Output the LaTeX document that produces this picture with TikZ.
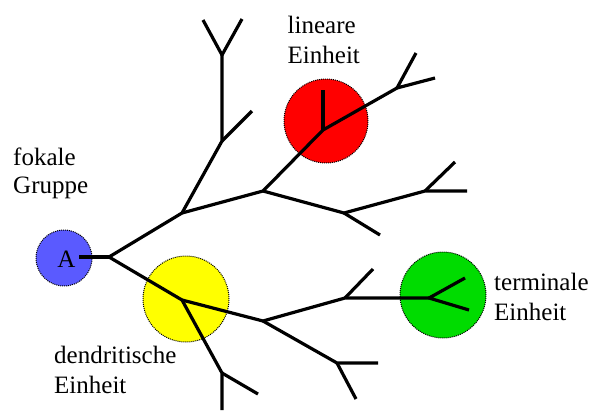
\documentclass[tikz,border=0pt]{standalone}
\usepackage{fontspec}
\setmainfont{Liberation Serif}
\definecolor{focalblue}{RGB}{90,90,255}
\definecolor{unitred}{RGB}{255,0,0}
\definecolor{unityellow}{RGB}{255,255,0}
\definecolor{unitgreen}{RGB}{0,220,0}
\begin{document}
\begin{tikzpicture}[x=1pt,y=-1pt,
  unit/.style={circle,draw=black,dash pattern=on 1pt off 1pt,line width=1pt,inner sep=0pt},
  branch/.style={line width=3.2pt,line join=round},
  label/.style={font=\fontsize{25}{30}\selectfont,inner sep=0pt,anchor=base west,align=left}]
\useasboundingbox (0,0) rectangle (592,410);

% circles marking the groups and units
\node[unit,fill=focalblue,minimum size=56pt] (focal) at (64,258) {};
\node[unit,fill=unityellow,minimum size=86pt] (dendr) at (186,299) {};
\node[unit,fill=unitred,minimum size=84pt] (linear) at (326,121) {};
\node[unit,fill=unitgreen,minimum size=86pt] (term) at (443,295) {};
\node[font=\fontsize{25}{30}\selectfont,inner sep=0pt,anchor=base] (Alab) at (66.5,267) {A};

% branching points of the tree
\coordinate (s0) at (79,257);
\coordinate (r) at (109,257);
\coordinate (u1) at (182,213);
\coordinate (u2) at (222,141);
\coordinate (u2a) at (252,111);
\coordinate (u3) at (222,55);
\coordinate (u3a) at (203,20);
\coordinate (u3b) at (242,19);
\coordinate (m) at (263,191);
\coordinate (c) at (323,130);
\coordinate (c1) at (323,90);
\coordinate (d) at (397,88);
\coordinate (d1) at (416,53);
\coordinate (d2) at (435,78);
\coordinate (e) at (344,213);
\coordinate (e1) at (380,235);
\coordinate (f) at (425,191);
\coordinate (f1) at (467,191);
\coordinate (f2) at (455,162);
\coordinate (y) at (182,300);
\coordinate (g) at (222,373);
\coordinate (g1) at (258,394);
\coordinate (g2) at (222,410);
\coordinate (h) at (263,321);
\coordinate (i) at (345,298);
\coordinate (i1) at (373,269);
\coordinate (j) at (429,298);
\coordinate (j1) at (465,278);
\coordinate (j2) at (469,310);
\coordinate (k) at (337,363);
\coordinate (k1) at (378,363);
\coordinate (k2) at (356,399);

% the tree
\draw[branch] (s0) -- (r);
\draw[branch] (r) -- (u1) -- (u2) -- (u3);
\draw[branch] (u2) -- (u2a);
\draw[branch] (u3a) -- (u3) -- (u3b);
\draw[branch] (u1) -- (m) -- (c) -- (d);
\draw[branch] (c) -- (c1);
\draw[branch] (d1) -- (d) -- (d2);
\draw[branch] (m) -- (e) -- (f) -- (f1);
\draw[branch] (e) -- (e1);
\draw[branch] (f) -- (f2);
\draw[branch] (r) -- (y) -- (g) -- (g2);
\draw[branch] (g) -- (g1);
\draw[branch] (y) -- (h) -- (i) -- (j);
\draw[branch] (i) -- (i1);
\draw[branch] (j1) -- (j) -- (j2);
\draw[branch] (h) -- (k) -- (k1);
\draw[branch] (k) -- (k2);

% labels (anchored at the baseline of the second line)
\node[label,font=\fontsize{25}{28}\selectfont] (lfocal) at (13,193) {fokale\\Gruppe};
\node[label] (llinear) at (287.5,63) {lineare\\Einheit};
\node[label] (lterm) at (494,320) {terminale\\Einheit};
\node[label] (ldendr) at (54,393) {dendritische\\Einheit};
\end{tikzpicture}
\end{document}
